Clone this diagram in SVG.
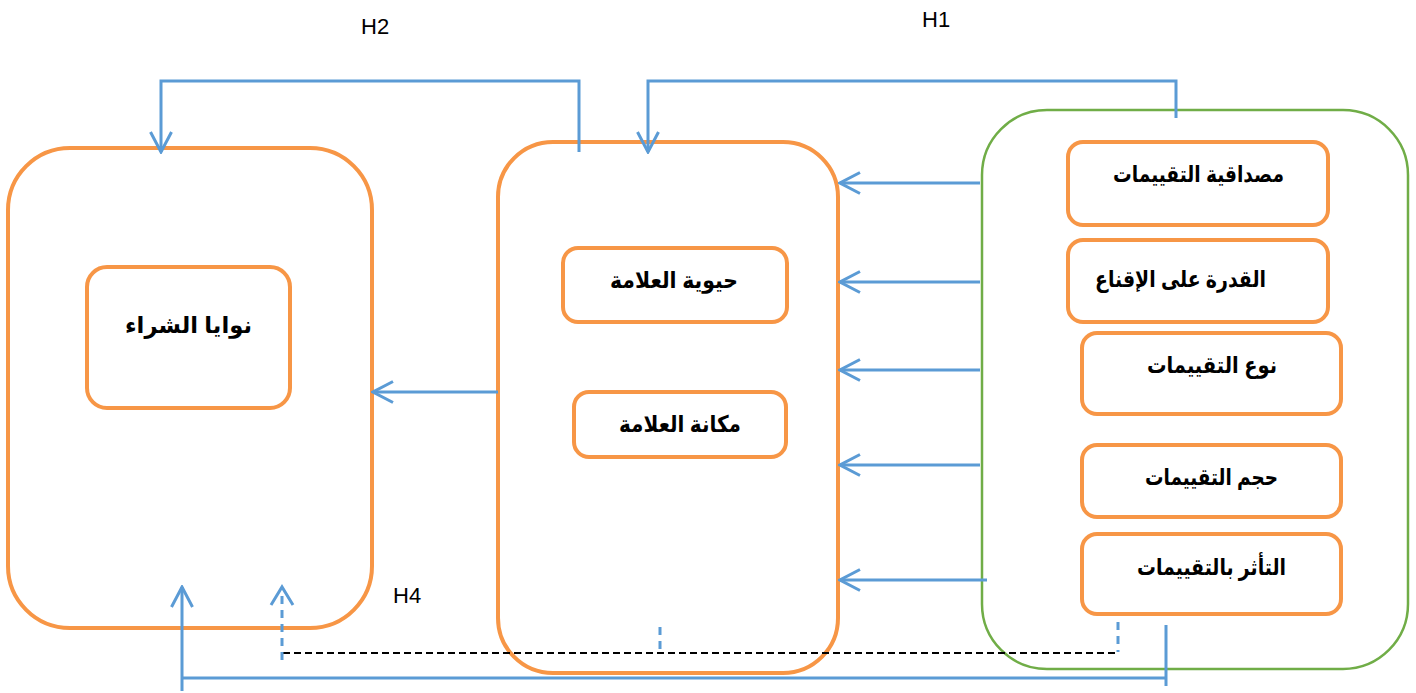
<svg xmlns="http://www.w3.org/2000/svg" width="1416" height="693" viewBox="0 0 1416 693">
<defs>
<style>
.big{fill:none;stroke:#F79646;stroke-width:4}
.inner{fill:#fff;stroke:#F79646;stroke-width:4}
.grn{fill:none;stroke:#70AD47;stroke-width:2.5}
.ar{font-family:"Liberation Sans","DejaVu Sans",sans-serif;font-weight:bold;font-size:23px;fill:#000;text-anchor:middle}
.h{font-family:"Liberation Sans",Arial,sans-serif;font-size:22px;fill:#000}
.bl{fill:none;stroke:#5B9BD5;stroke-width:3}
.bld{fill:none;stroke:#5B9BD5;stroke-width:3;stroke-dasharray:8 6}
.blk{fill:none;stroke:#000;stroke-width:2;stroke-dasharray:7 4}
</style>
<marker id="ah" viewBox="0 0 24 24" refX="22" refY="12" markerWidth="24" markerHeight="24" markerUnits="userSpaceOnUse" orient="auto">
<path d="M2,1.5 L22,12 L2,22.5" fill="none" stroke="#5B9BD5" stroke-width="3"/>
</marker>
</defs>
<rect width="1416" height="693" fill="#fff"/>
<g id="purchase-intentions">
<rect class="big" x="8" y="148" width="364" height="480" rx="62"/>
<rect class="inner" x="87" y="267" width="203" height="141" rx="20"/>
<text class="ar" x="188.5" y="333" textLength="127" lengthAdjust="spacingAndGlyphs">نوايا الشراء</text>
</g>
<g id="brand">
<rect class="big" x="498" y="142" width="340" height="531" rx="55"/>
<rect class="inner" x="563" y="248" width="224" height="74" rx="15"/>
<text class="ar" x="674" y="288" textLength="128" lengthAdjust="spacingAndGlyphs">حيوية العلامة</text>
<rect class="inner" x="574" y="392" width="212" height="65" rx="15"/>
<text class="ar" x="680" y="432" textLength="122" lengthAdjust="spacingAndGlyphs">مكانة العلامة</text>
</g>
<g id="reviews">
<rect class="grn" x="982" y="110" width="426" height="559" rx="65"/>
<rect class="inner" x="1068" y="142" width="260" height="83" rx="15"/>
<text class="ar" x="1198.5" y="182" textLength="171" lengthAdjust="spacingAndGlyphs">مصداقية التقييمات</text>
<rect class="inner" x="1068" y="240" width="260" height="82" rx="15"/>
<text class="ar" x="1180.5" y="287" textLength="171" lengthAdjust="spacingAndGlyphs">القدرة على الإقناع</text>
<rect class="inner" x="1082" y="333" width="259" height="81" rx="15"/>
<text class="ar" x="1212" y="373" textLength="130" lengthAdjust="spacingAndGlyphs">نوع التقييمات</text>
<rect class="inner" x="1082" y="445" width="259" height="72" rx="15"/>
<text class="ar" x="1211.5" y="485" textLength="133" lengthAdjust="spacingAndGlyphs">حجم التقييمات</text>
<rect class="inner" x="1082" y="534" width="259" height="80" rx="15"/>
<text class="ar" x="1211.5" y="575" textLength="149" lengthAdjust="spacingAndGlyphs">التأثر بالتقييمات</text>
</g>
<g id="connectors">
<path class="bl" d="M579,152 V81 H161 V152" marker-end="url(#ah)"/>
<path class="bl" d="M1176,118 V81 H648 V152" marker-end="url(#ah)"/>
<path class="bl" d="M980,183 H840" marker-end="url(#ah)"/>
<path class="bl" d="M980,282 H840" marker-end="url(#ah)"/>
<path class="bl" d="M980,370 H840" marker-end="url(#ah)"/>
<path class="bl" d="M980,465 H840" marker-end="url(#ah)"/>
<path class="bl" d="M987,580 H840" marker-end="url(#ah)"/>
<path class="bl" d="M498,392 H373" marker-end="url(#ah)"/>
<path class="bl" d="M1166,625 V686 M1166,678 H182 M182,691 V587" marker-end="url(#ah)"/>
<path class="blk" d="M283,653 H1118"/>
<path class="bld" d="M1118,622 V652"/>
<path class="bld" d="M660,627 V653"/>
<path class="bld" d="M282,660 V592"/>
<path class="bl" d="M271,605 L282,587 L293,605"/>
</g>
<text class="h" x="361" y="34">H2</text>
<text class="h" x="922" y="27">H1</text>
<text class="h" x="393" y="603">H4</text>
</svg>
